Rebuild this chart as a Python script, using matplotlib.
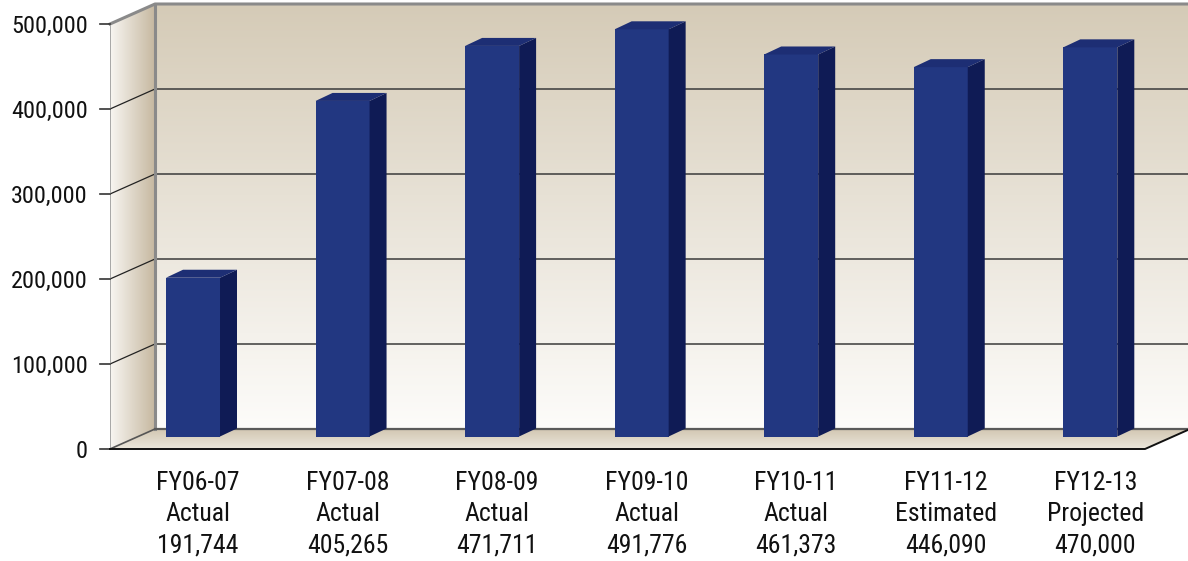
import numpy as np
import matplotlib
matplotlib.use("Agg")
import matplotlib.pyplot as plt
from matplotlib.patches import Polygon
from matplotlib.colors import LinearSegmentedColormap

# data
years = ["FY06-07", "FY07-08", "FY08-09", "FY09-10", "FY10-11", "FY11-12", "FY12-13"]
status = ["Actual", "Actual", "Actual", "Actual", "Actual", "Estimated", "Projected"]
values = [191744, 405265, 471711, 491776, 461373, 446090, 470000]
yticks = [0, 100000, 200000, 300000, 400000, 500000]

W, H = 1188, 561
PT = 100 / 72  # px per point
plt.rcParams['font.family'] = ['Roboto Condensed', 'IBM Plex Sans Condensed', 'Roboto',
                               'DejaVu Sans']

fig = plt.figure(figsize=(W / 100, H / 100), dpi=100)
fig.patch.set_facecolor('white')

# --- walls axes: front plane x 0..1 (px 110..1145), y 0..500k (px 449..24)
depth_px = (45, 20)
sx = 1035.0           # px per x-unit
sy = 425 / 500000     # px per value
ddx = depth_px[0] / sx
ddy = depth_px[1] / sy
x_left, y_bot = 110, 449
ax = fig.add_axes([x_left / W, 1 - y_bot / H, (sx + depth_px[0]) / W, (425 + depth_px[1]) / H])
ax.set_xlim(0, 1 + ddx)
ax.set_ylim(0, 500000 + ddy)
ax.axis('off')


def gradient_fill(axis, poly_pts, c1, c2, vertical=True):
    poly = Polygon(poly_pts, closed=True, facecolor='none', edgecolor='none')
    axis.add_patch(poly)
    cmap = LinearSegmentedColormap.from_list('g', [c1, c2])
    grad = np.linspace(0, 1, 256)
    img = grad.reshape(-1, 1) if vertical else grad.reshape(1, -1)
    xs = [p[0] for p in poly_pts]
    ys = [p[1] for p in poly_pts]
    im = axis.imshow(img, cmap=cmap, aspect='auto', origin='lower',
                     extent=[min(xs), max(xs), min(ys), max(ys)], zorder=0)
    im.set_clip_path(poly)


top = 500000
# back wall (light at bottom, tan at top)
gradient_fill(ax, [(ddx, ddy), (1 + ddx, ddy), (1 + ddx, top + ddy), (ddx, top + ddy)],
              '#fdfcfa', '#d5cbb7')
# left side wall (light at front, tan at back)
gradient_fill(ax, [(0, 0), (ddx, ddy), (ddx, top + ddy), (0, top)],
              '#f8f6f2', '#c6b8a0', vertical=False)
# floor
gradient_fill(ax, [(0, 0), (1, 0), (1 + ddx, ddy), (ddx, ddy)],
              '#ebe6dc', '#d2c7b2')

# grid lines on back wall and left wall
for v in yticks[1:-1]:
    ax.plot([ddx, 1 + ddx], [v + ddy, v + ddy], color='#3a3a3a', lw=1.1, zorder=2)
    ax.plot([0, ddx], [v, v + ddy], color='#222222', lw=0.9, zorder=2)
# top edge and back edges
ax.plot([0, ddx, 1 + ddx], [top, top + ddy, top + ddy], color='#8a8a8a', lw=2.2, zorder=2,
        clip_on=False)
ax.plot([ddx, ddx], [ddy, top + ddy], color='#8a8a8a', lw=2.2, zorder=2)
ax.plot([0, 0], [0, top], color='#9a9a9a', lw=1.2, zorder=2)
ax.plot([0, ddx], [0, ddy], color='#555555', lw=1.2, zorder=2)
ax.plot([ddx, 1 + ddx], [ddy, ddy], color='#5a5a5a', lw=1.6, zorder=2)
# floor front edge
ax.plot([0, 1, 1 + ddx], [0, 0, ddy], color='#111111', lw=1.4, zorder=3, clip_on=False)

# y ticks on front edge
for v in yticks:
    ax.plot([-10 / sx, 0], [v, v], color='#333333', lw=1.2, clip_on=False)
    ax.annotate(f"{v:,}", (0, v), xytext=(-22 / PT, -9 / PT), textcoords='offset points',
                ha='right', va='baseline', fontsize=17.5, color='#111111',
                annotation_clip=False)

# --- bars axes: bar front plane
bar_c0, bar_step = 193, 149.55
b_left = bar_c0 - 0.5 * bar_step
b_right = bar_c0 + 6.5 * bar_step
b_zero, b_top = 436.5, 22.5
bx = fig.add_axes([b_left / W, 1 - b_zero / H, (b_right - b_left) / W, (b_zero - b_top) / H])
bx.set_xlim(-0.5, 6.5)
bx.set_ylim(0, 500000)
bx.axis('off')
bx.patch.set_alpha(0)

bw = 54 / bar_step
bdx = 17 / bar_step
bdy = 8 / ((b_zero - b_top) / 500000)
xpos = np.arange(len(values))
front_c, side_c, top_c = '#223781', '#0f1b55', '#1d2e74'
bx.bar(xpos, values, width=bw, color=front_c, zorder=3)
for x, v in zip(xpos, values):
    side = Polygon([(x + bw / 2, 0), (x + bw / 2 + bdx, bdy), (x + bw / 2 + bdx, v + bdy),
                    (x + bw / 2, v)], closed=True, facecolor=side_c, edgecolor='none',
                   zorder=3, clip_on=False)
    topf = Polygon([(x - bw / 2, v), (x + bw / 2, v), (x + bw / 2 + bdx, v + bdy),
                    (x - bw / 2 + bdx, v + bdy)], closed=True, facecolor=top_c,
                   edgecolor='none', zorder=3, clip_on=False)
    bx.add_patch(side)
    bx.add_patch(topf)

# category labels (three lines, baselines at 490 / 521 / 552 px)
trans = bx.get_xaxis_transform()
for x, yr, st, v in zip(xpos, years, status, values):
    for k, line in enumerate([yr, st, f"{v:,}"]):
        py = 490 + 31 * k
        yfrac = (b_zero - py) / (b_zero - b_top)
        bx.text(x + 5 / bar_step, yfrac, line, transform=trans, ha='center', va='baseline',
                fontsize=18.5, color='#111111', clip_on=False)

fig.savefig('out.png', dpi=100)
